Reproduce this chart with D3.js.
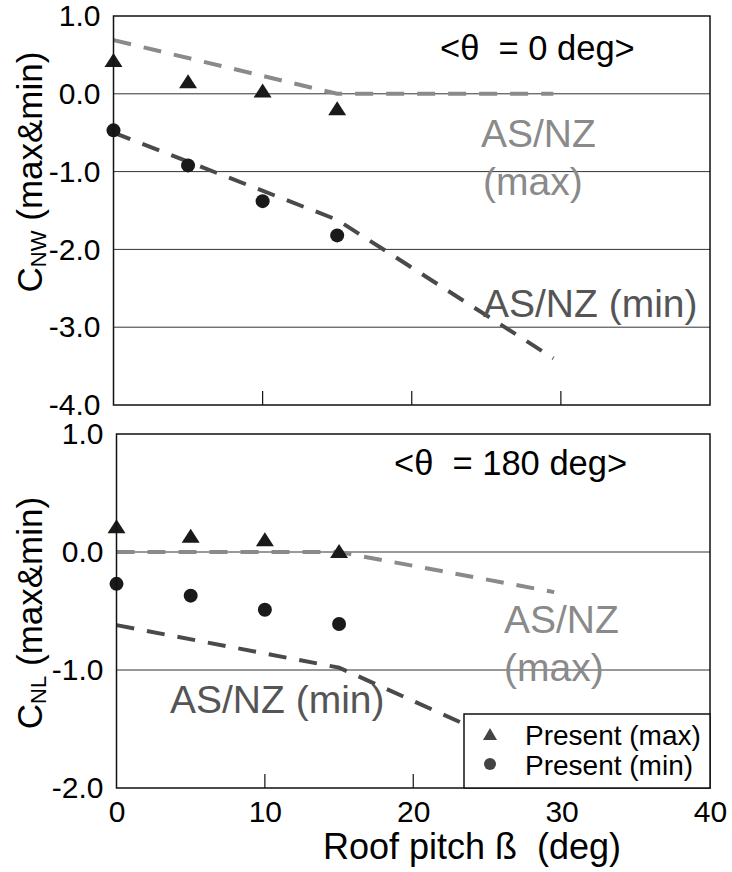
<!DOCTYPE html>
<meta charset="utf-8">
<style>
body {
    margin: 0px;
    background: white;
    font-family: "Liberation Sans", Arial, sans-serif;
}
text { white-space: pre; }
.grid { stroke: #333; stroke-width: 1px; }
.frame { fill: none; stroke: #111; stroke-width: 1.5px; }
</style>
<body>
<script src="https://d3js.org/d3.v7.min.js"></script>
<script>
var width = 732,
    height = 872

// measured values (pitch in deg)
var pitch = [0, 5, 10, 15]
var nwMax = [0.42, 0.15, 0.03, -0.2]
var nwMin = [-0.47, -0.92, -1.38, -1.82]
var nlMax = [0.21, 0.13, 0.10, 0.0]
var nlMin = [-0.27, -0.37, -0.49, -0.61]

// AS/NZ code lines
var codePitch = [0, 15, 29.5]
var codeNwMax = [0.69, 0.0, 0.0]
var codeNwMin = [-0.5, -1.62, -3.4]
var codeNlMax = [0.0, 0.0, -0.34]
var codeNlMin = [-0.62, -0.98, -1.8]

var xTicks = [0, 10, 20, 30, 40]

var svg = d3.select("body").append("svg")
    .attr("width", width)
    .attr("height", height)

var panels = [
  { left: 113.5, right: 710, top: 16, bottom: 405, domain: [-4, 1], grid: [0, -1, -2, -3],
    yTicks: [1, 0, -1, -2, -3, -4], max: nwMax, min: nwMin, cMax: codeNwMax, cMin: codeNwMin,
    sub: "NW", titleY: 172, theta: "<θ  = 0 deg>", thetaX: 440, thetaY: 60 },
  { left: 116.5, right: 710, top: 434, bottom: 788, domain: [-2, 1], grid: [0, -1],
    yTicks: [1, 0, -1, -2], max: nlMax, min: nlMin, cMax: codeNlMax, cMin: codeNlMin,
    sub: "NL", titleY: 613, theta: "<θ  = 180 deg>", thetaX: 394, thetaY: 475 }
]

function fmt(d) { return d.toFixed(1) }

panels.forEach(function(p, i) {
  var x = d3.scaleLinear().domain([0, 40]).range([p.left, p.right])
  var y = d3.scaleLinear().domain(p.domain).range([p.bottom, p.top])
  var g = svg.append("g")

  // grid lines
  g.selectAll(".grid").data(p.grid).enter().append("line")
      .attr("class", "grid")
      .attr("x1", p.left).attr("x2", p.right)
      .attr("y1", function(d) { return y(d) }).attr("y2", function(d) { return y(d) })

  // inward x ticks
  g.selectAll(".xt").data([10, 20, 30]).enter().append("line")
      .attr("stroke", "#111").attr("stroke-width", 1.2)
      .attr("x1", function(d) { return x(d) }).attr("x2", function(d) { return x(d) })
      .attr("y1", p.bottom).attr("y2", p.bottom - 14)

  // y axis labels
  var ya = g.append("g")
      .attr("transform", "translate(" + p.left + ",0)")
      .call(d3.axisLeft(y).tickValues(p.yTicks).tickSize(0).tickPadding(13).tickFormat(fmt))
  ya.select(".domain").remove()
  ya.selectAll("text").style("font-size", "30px").style("font-family", "Liberation Sans, Arial, sans-serif").attr("fill", "#000")

  if (i == 1) {
    var xa = g.append("g")
        .attr("transform", "translate(0," + p.bottom + ")")
        .call(d3.axisBottom(x).tickValues(xTicks).tickSize(0).tickPadding(13))
    xa.select(".domain").remove()
    xa.selectAll("text").style("font-size", "30px").style("font-family", "Liberation Sans, Arial, sans-serif").attr("fill", "#000")
  }

  // code lines
  var line = d3.line().x(function(d) { return x(d[0]) }).y(function(d) { return y(d[1]) })
  g.append("path")
      .attr("d", line(d3.zip(codePitch, p.cMax)))
      .attr("fill", "none").attr("stroke", "#8a8a8a").attr("stroke-width", 4)
      .attr("stroke-dasharray", "18,13")
  g.append("path")
      .attr("d", line(d3.zip(codePitch, p.cMin)))
      .attr("fill", "none").attr("stroke", "#4a4a4a").attr("stroke-width", 4)
      .attr("stroke-dasharray", "18,13")

  // present markers
  g.selectAll(".tri").data(d3.zip(pitch, p.max)).enter().append("path")
      .attr("d", "M0,-8L9,6L-9,6Z")
      .attr("fill", "#1a1a1a")
      .attr("transform", function(d) { return "translate(" + x(d[0]) + "," + y(d[1]) + ")" })
  g.selectAll(".dot").data(d3.zip(pitch, p.min)).enter().append("circle")
      .attr("r", 7)
      .attr("fill", "#1a1a1a")
      .attr("cx", function(d) { return x(d[0]) })
      .attr("cy", function(d) { return y(d[1]) })

  // frame
  g.append("rect").attr("class", "frame")
      .attr("x", p.left).attr("y", p.top)
      .attr("width", p.right - p.left).attr("height", p.bottom - p.top)

  // theta label
  g.append("text")
      .attr("x", p.thetaX).attr("y", p.thetaY)
      .style("font-size", "34.5px")
      .text(p.theta)

  // y title
  var t = svg.append("text")
      .attr("transform", "translate(42," + p.titleY + ") rotate(-90)")
      .attr("text-anchor", "middle")
      .style("font-size", "35px")
  t.append("tspan").text("C")
  t.append("tspan").attr("dy", 4).style("font-size", "22px").text(p.sub)
  t.append("tspan").attr("dy", -4).text(" (max&min)")
})

// AS/NZ annotations
function note(xp, yp, str, col) {
  svg.append("text").attr("x", xp).attr("y", yp)
      .attr("fill", col).style("font-size", "39px").text(str)
}
note(481, 147, "AS/NZ", "#8a8a8a")
note(483, 195, "(max)", "#8a8a8a")
note(483, 317, "AS/NZ (min)", "#555")
note(504, 633, "AS/NZ", "#8a8a8a")
note(504, 681, "(max)", "#8a8a8a")
note(170, 713, "AS/NZ (min)", "#555")

// legend
var lg = svg.append("g")
lg.append("rect")
    .attr("x", 464).attr("y", 714).attr("width", 246).attr("height", 74)
    .attr("fill", "white").attr("stroke", "#111").attr("stroke-width", 1.5)
lg.append("path").attr("d", "M0,-7L7,5L-7,5Z").attr("fill", "#444")
    .attr("transform", "translate(490,735)")
lg.append("circle").attr("cx", 490).attr("cy", 764).attr("r", 6).attr("fill", "#444")
lg.append("text").attr("x", 525).attr("y", 745).style("font-size", "28px").text("Present (max)")
lg.append("text").attr("x", 525).attr("y", 775).style("font-size", "28px").text("Present (min)")

// x title
svg.append("text")
    .attr("x", 472).attr("y", 859)
    .attr("text-anchor", "middle")
    .style("font-size", "36px")
    .text("Roof pitch ß  (deg)")
</script>
